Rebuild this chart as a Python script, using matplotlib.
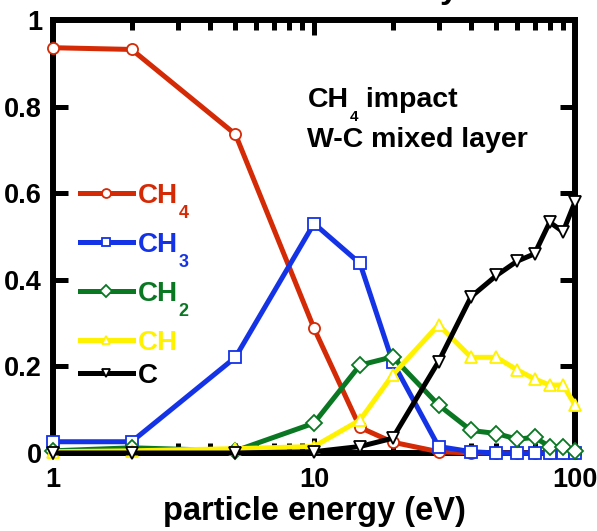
import matplotlib
matplotlib.use("Agg")
import matplotlib.pyplot as plt
from matplotlib.ticker import LogLocator, NullFormatter

plt.rcParams['font.family'] = ['Liberation Sans', 'DejaVu Sans']
plt.rcParams['font.weight'] = 'bold'

# energia das particulas (eV)
energy = [1, 2, 5, 10, 15, 20, 30, 40, 50, 60, 70, 80, 90, 100]

# valores
ch4 = [0.936, 0.932, 0.736, 0.288, 0.059, 0.025, 0.003, 0, 0, 0, 0, 0, 0, 0]
ch3 = [0.026, 0.026, 0.221, 0.530, 0.438, 0.211, 0.015, 0.003, 0, 0, 0, 0, 0, 0]
ch2 = [0.005, 0.012, 0.005, 0.069, 0.203, 0.222, 0.111, 0.052, 0.045, 0.032,
       0.036, 0.015, 0.015, 0.005]
ch = [0.003, 0.005, 0.010, 0.015, 0.076, 0.180, 0.296, 0.221, 0.221, 0.192,
      0.171, 0.157, 0.157, 0.111]
c = [0, 0, 0, 0.003, 0.015, 0.034, 0.211, 0.361, 0.410, 0.443, 0.460, 0.533,
     0.511, 0.580]

names = ['CH', 'CH', 'CH', 'CH', 'C']
subs = ['4', '3', '2', '', '']
colors = ['#d42a06', '#1433e6', '#0a7823', '#fff200', '#000000']
markers = ['o', 's', 'D', '^', 'v']

xticks = [1, 10, 100]
xticklabels = ['1', '10', '100']
yticks = [0, 0.2, 0.4, 0.6, 0.8, 1]
yticklabels = ['0', '0.2', '0.4', '0.6', '0.8', '1']

fig = plt.figure(figsize=(5.97, 5.31), dpi=100)
ax = fig.add_axes([53 / 597, 1 - 453 / 531, 522 / 597, 433 / 531])

lines = []
for vals, col, mk in zip([ch4, ch3, ch2, ch, c], colors, markers):
    ln, = ax.plot(energy, vals, color=col, lw=3.6, marker=mk, ms=8,
                  mfc='white', mec=col, mew=1.3, zorder=3, clip_on=False)
    lines.append(ln)

ax.set_xscale('log')
ax.set_xlim(1, 100)
ax.set_ylim(0, 1)
ax.set_xticks(xticks)
ax.set_xticklabels(xticklabels)
ax.xaxis.set_minor_locator(LogLocator(base=10, subs=range(2, 10)))
ax.xaxis.set_minor_formatter(NullFormatter())
ax.set_yticks(yticks)
ax.set_yticklabels(yticklabels)

for s in ax.spines.values():
    s.set_linewidth(4.3)
ax.tick_params(which='both', direction='in', top=True, right=True, width=3.6,
               labelsize=19.5)
ax.tick_params(which='major', length=11, pad=8)
ax.tick_params(which='minor', length=7.5)
ax.tick_params(axis='x', which='major', pad=10)

ax.set_xlabel('particle energy (eV)', fontsize=23.5, fontweight='bold',
              labelpad=2)

# legenda em dois blocos (espacamento diferente)
common = dict(loc='upper left', frameon=False, borderpad=0, borderaxespad=0,
              handlelength=1.9, handletextpad=0.18, fontsize=20,
              markerscale=0.8)
leg1 = ax.legend(lines[:3], names[:3], bbox_to_anchor=(0.0517, 0.6236),
                 labelspacing=0.83, **common)
ax.add_artist(leg1)
leg2 = ax.legend(lines[3:], names[3:], bbox_to_anchor=(0.0517, 0.2848),
                 labelspacing=0.25, **common)

texts = list(leg1.get_texts()) + list(leg2.get_texts())
for t, col, sub in zip(texts, colors, subs):
    t.set_color(col)
    if sub:
        ax.annotate(sub, xy=(1, 0), xycoords=t, xytext=(0.5, 3.0),
                    textcoords='offset points', ha='left', va='top',
                    fontsize=13, color=col, zorder=6)

# texto "CH4 impact / W-C mixed layer"
t1 = ax.text(0.4885, 0.799, 'CH', transform=ax.transAxes, fontsize=20.5,
             va='baseline', ha='left', zorder=6)
t2 = ax.annotate('4', xy=(1, 0), xycoords=t1, xytext=(0.3, 2.5),
                 textcoords='offset points', ha='left', va='top',
                 fontsize=11, zorder=7)
ax.annotate(' impact', xy=(1, 0), xycoords=(t2, t1), xytext=(0, 0),
            textcoords='offset points', ha='left', va='bottom',
            fontsize=20.5, zorder=8)
ax.text(0.4866, 0.7067, 'W-C mixed layer', transform=ax.transAxes,
        fontsize=20.5, va='baseline', ha='left', zorder=6)

# resto do titulo cortado no topo
fig.text(440 / 597, 1.003, 'y', fontsize=24, va='baseline', ha='left')

fig.savefig('out.png', dpi=100)
